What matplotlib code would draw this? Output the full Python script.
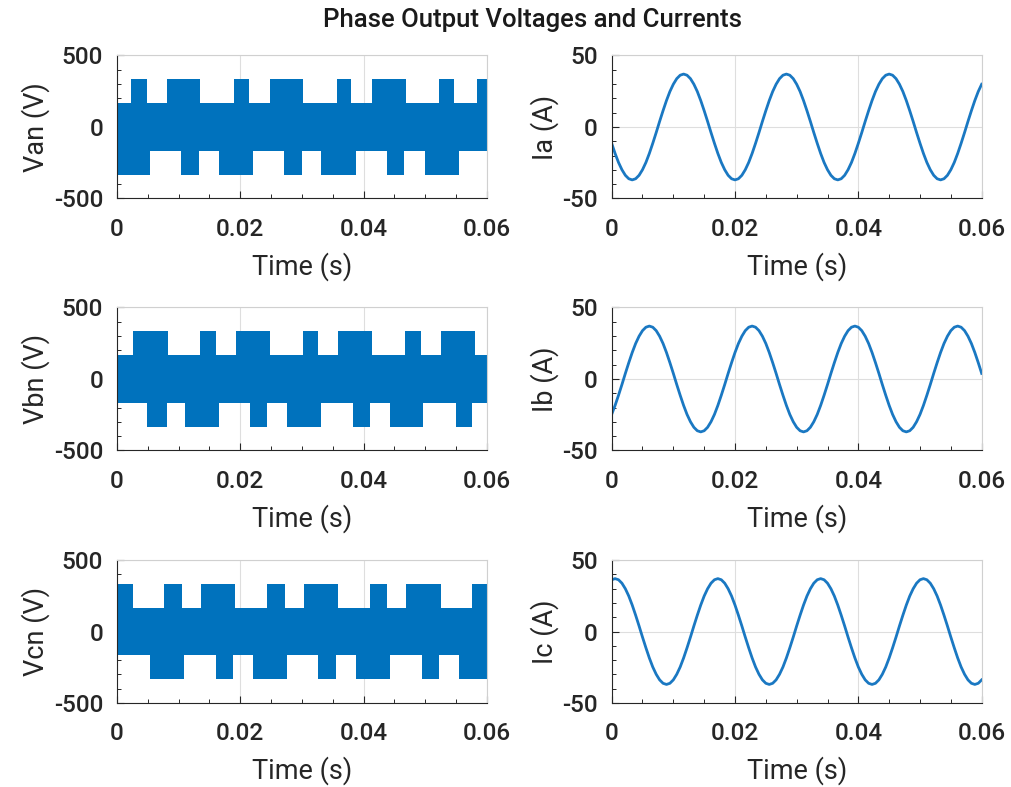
import numpy as np
import matplotlib.pyplot as plt
from matplotlib.ticker import MultipleLocator

plt.rcParams['font.family'] = ['Roboto', 'DejaVu Sans']
plt.rcParams['font.weight'] = 'medium'
plt.rcParams['axes.unicode_minus'] = False

BLUE = "#0072BD"
TXT = "#262626"
T_END = 0.06
V_HI = 333   # 2/3 Vdc
V_MID = 167  # 1/3 Vdc

# time spans where the PWM band reaches +V_HI / -V_HI
van_top = [(0.0022, 0.0048), (0.0081, 0.0135), (0.0189, 0.0214), (0.0248, 0.0302),
           (0.0356, 0.0380), (0.0414, 0.0468), (0.0522, 0.0546), (0.0583, 0.0600)]
van_bot = [(0.0000, 0.0053), (0.0104, 0.0133), (0.0165, 0.0221), (0.0271, 0.0300),
           (0.0331, 0.0387), (0.0438, 0.0465), (0.0499, 0.0554)]
vbn_top = [(0.0026, 0.0082), (0.0134, 0.0160), (0.0193, 0.0248), (0.0301, 0.0326),
           (0.0359, 0.0414), (0.0467, 0.0493), (0.0526, 0.0581)]
vbn_bot = [(0.0048, 0.0081), (0.0110, 0.0165), (0.0215, 0.0243), (0.0276, 0.0331),
           (0.0382, 0.0410), (0.0442, 0.0497), (0.0549, 0.0576)]
vcn_top = [(0.0000, 0.0026), (0.0076, 0.0105), (0.0136, 0.0191), (0.0243, 0.0272),
           (0.0303, 0.0358), (0.0410, 0.0438), (0.0469, 0.0525), (0.0576, 0.0600)]
vcn_bot = [(0.0054, 0.0108), (0.0160, 0.0188), (0.0221, 0.0276), (0.0326, 0.0355),
           (0.0387, 0.0442), (0.0494, 0.0522), (0.0554, 0.0600)]

# phase currents sampled every 1/1800 s
t_i = np.linspace(0, T_END, 109)
ia = [-11.4, -18.5, -24.8, -29.9, -33.8, -36.2, -37.0, -36.2, -33.8, -29.9,
      -24.8, -18.5, -11.4, -3.9, 3.9, 11.4, 18.5, 24.8, 29.9, 33.8,
      36.2, 37.0, 36.2, 33.8, 29.9, 24.8, 18.5, 11.4, 3.9, -3.9,
      -11.4, -18.5, -24.8, -29.9, -33.8, -36.2, -37.0, -36.2, -33.8, -29.9,
      -24.8, -18.5, -11.4, -3.9, 3.9, 11.4, 18.5, 24.8, 29.9, 33.8,
      36.2, 37.0, 36.2, 33.8, 29.9, 24.8, 18.5, 11.4, 3.9, -3.9,
      -11.4, -18.5, -24.8, -29.9, -33.8, -36.2, -37.0, -36.2, -33.8, -29.9,
      -24.8, -18.5, -11.4, -3.9, 3.9, 11.4, 18.5, 24.8, 29.9, 33.8,
      36.2, 37.0, 36.2, 33.8, 29.9, 24.8, 18.5, 11.4, 3.9, -3.9,
      -11.4, -18.5, -24.8, -29.9, -33.8, -36.2, -37.0, -36.2, -33.8, -29.9,
      -24.8, -18.5, -11.4, -3.9, 3.9, 11.4, 18.5, 24.8, 29.9]
ib = [-24.8, -18.5, -11.4, -3.9, 3.9, 11.4, 18.5, 24.8, 29.9, 33.8,
      36.2, 37.0, 36.2, 33.8, 29.9, 24.8, 18.5, 11.4, 3.9, -3.9,
      -11.4, -18.5, -24.8, -29.9, -33.8, -36.2, -37.0, -36.2, -33.8, -29.9,
      -24.8, -18.5, -11.4, -3.9, 3.9, 11.4, 18.5, 24.8, 29.9, 33.8,
      36.2, 37.0, 36.2, 33.8, 29.9, 24.8, 18.5, 11.4, 3.9, -3.9,
      -11.4, -18.5, -24.8, -29.9, -33.8, -36.2, -37.0, -36.2, -33.8, -29.9,
      -24.8, -18.5, -11.4, -3.9, 3.9, 11.4, 18.5, 24.8, 29.9, 33.8,
      36.2, 37.0, 36.2, 33.8, 29.9, 24.8, 18.5, 11.4, 3.9, -3.9,
      -11.4, -18.5, -24.8, -29.9, -33.8, -36.2, -37.0, -36.2, -33.8, -29.9,
      -24.8, -18.5, -11.4, -3.9, 3.9, 11.4, 18.5, 24.8, 29.9, 33.8,
      36.2, 37.0, 36.2, 33.8, 29.9, 24.8, 18.5, 11.4, 3.9]
ic = [36.2, 37.0, 36.2, 33.8, 29.9, 24.8, 18.5, 11.4, 3.9, -3.9,
      -11.4, -18.5, -24.8, -29.9, -33.8, -36.2, -37.0, -36.2, -33.8, -29.9,
      -24.8, -18.5, -11.4, -3.9, 3.9, 11.4, 18.5, 24.8, 29.9, 33.8,
      36.2, 37.0, 36.2, 33.8, 29.9, 24.8, 18.5, 11.4, 3.9, -3.9,
      -11.4, -18.5, -24.8, -29.9, -33.8, -36.2, -37.0, -36.2, -33.8, -29.9,
      -24.8, -18.5, -11.4, -3.9, 3.9, 11.4, 18.5, 24.8, 29.9, 33.8,
      36.2, 37.0, 36.2, 33.8, 29.9, 24.8, 18.5, 11.4, 3.9, -3.9,
      -11.4, -18.5, -24.8, -29.9, -33.8, -36.2, -37.0, -36.2, -33.8, -29.9,
      -24.8, -18.5, -11.4, -3.9, 3.9, 11.4, 18.5, 24.8, 29.9, 33.8,
      36.2, 37.0, 36.2, 33.8, 29.9, 24.8, 18.5, 11.4, 3.9, -3.9,
      -11.4, -18.5, -24.8, -29.9, -33.8, -36.2, -37.0, -36.2, -33.8]

volt_labels = ["Van (V)", "Vbn (V)", "Vcn (V)"]
curr_labels = ["Ia (A)", "Ib (A)", "Ic (A)"]
time_ticks = [0, 0.02, 0.04, 0.06]
time_ticklabels = ["0", "0.02", "0.04", "0.06"]


def style_axes(ax, ylim, ymajor, yminor):
    ax.set_xlim(0, T_END)
    ax.set_ylim(*ylim)
    ax.set_xticks(time_ticks)
    ax.set_xticklabels(time_ticklabels)
    ax.xaxis.set_minor_locator(MultipleLocator(0.005))
    ax.yaxis.set_major_locator(MultipleLocator(ymajor))
    ax.yaxis.set_minor_locator(MultipleLocator(yminor))
    ax.grid(True, which="major", color="#dedede", lw=0.8)
    ax.set_axisbelow(True)
    ax.tick_params(which="both", direction="in", top=False, right=False,
                   labelsize=17.5, colors=TXT)
    ax.tick_params(axis="x", pad=14)
    ax.tick_params(axis="y", pad=10)
    ax.tick_params(which="major", length=5, width=0.8)
    ax.tick_params(which="minor", length=3, width=0.7)
    for s in ["left", "bottom"]:
        ax.spines[s].set_color(TXT)
        ax.spines[s].set_linewidth(0.8)
    for s in ["top", "right"]:
        ax.spines[s].set_color("#d0d0d0")
        ax.spines[s].set_linewidth(0.8)
    ax.set_xlabel("Time (s)", fontsize=19.5, color=TXT, labelpad=8)


fig = plt.figure(figsize=(10.11, 7.87), dpi=100)
bottoms = [0.7478, 0.4276, 0.1067]
w, h = 0.366, 0.1817

volt_spans = [(van_top, van_bot), (vbn_top, vbn_bot), (vcn_top, vcn_bot)]
currents = [ia, ib, ic]

for row in range(3):
    axv = fig.add_axes([0.1157, bottoms[row], w, h])
    top, bot = volt_spans[row]
    axv.fill_between([0, T_END], -V_MID, V_MID, color=BLUE, lw=0)
    axv.broken_barh([(a, b - a) for a, b in top], (0, V_HI), color=BLUE, lw=0)
    axv.broken_barh([(a, b - a) for a, b in bot], (-V_HI, V_HI), color=BLUE, lw=0)
    style_axes(axv, (-500, 500), 500, 100)
    axv.set_ylabel(volt_labels[row], fontsize=19.5, color=TXT, labelpad=3)

    axi = fig.add_axes([0.605, bottoms[row], w, h])
    axi.plot(t_i, currents[row], color="#1a78c2", lw=2)
    style_axes(axi, (-50, 50), 50, 10)
    axi.set_ylabel(curr_labels[row], fontsize=19.5, color=TXT, labelpad=2)

fig.text(0.527, 0.974, "Phase Output Voltages and Currents", ha="center", va="center",
         fontsize=18.5, color="#1a1a1a")

fig.savefig("out.png", dpi=100)
